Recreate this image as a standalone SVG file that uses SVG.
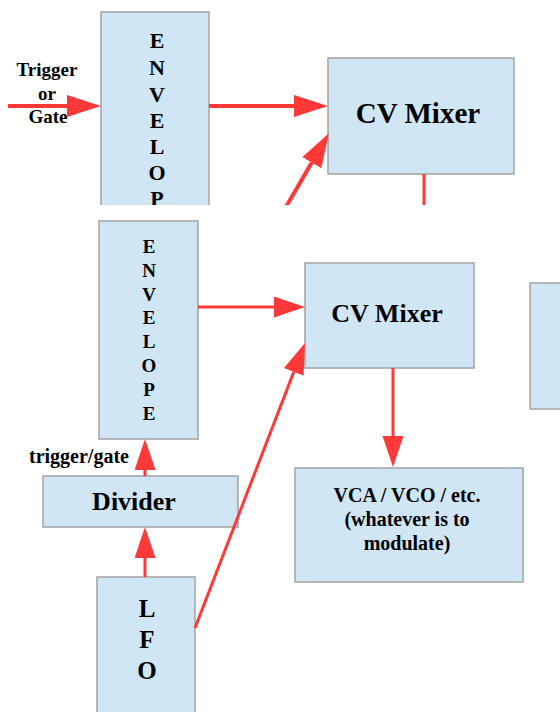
<svg xmlns="http://www.w3.org/2000/svg" width="560" height="712" viewBox="0 0 560 712">
<style>
.box{fill:#d0e6f5;stroke:#a3a3a3;stroke-width:1.5}
.t{font-family:'Liberation Serif','Times New Roman','DejaVu Serif',serif;font-weight:700;fill:#000;text-anchor:middle}
.w4{stroke:#ff3838;stroke-width:4;fill:none}
.w3{stroke:#ff3838;stroke-width:3;fill:none}
</style>
<defs>
<clipPath id="topclip"><rect x="0" y="0" width="560" height="205"/></clipPath>
<marker id="hb" markerUnits="userSpaceOnUse" markerWidth="36" markerHeight="22" refX="0" refY="11" orient="auto"><path d="M0,0 L34,11 L0,22 z" fill="#ff3838"/></marker>
<marker id="hs" markerUnits="userSpaceOnUse" markerWidth="33" markerHeight="22" refX="0" refY="10.5" orient="auto"><path d="M0,0 L31,10.5 L0,21 z" fill="#ff3838"/></marker>
</defs>
<g id="top" clip-path="url(#topclip)">
<g id="env-top">
<rect class="box" x="101" y="12" width="108" height="230"/>
<g class="t" font-family="Liberation Serif, serif" font-size="22">
<text x="157" y="48">E</text><text x="157" y="75">N</text><text x="157" y="102">V</text><text x="157" y="128">E</text><text x="157" y="154">L</text><text x="157" y="180">O</text><text x="157" y="206">P</text>
</g>
</g>
<g id="cvmix-top">
<rect class="box" x="328" y="58" width="186" height="116"/>
<text class="t" font-family="Liberation Serif, serif" x="418" y="123" font-size="29">CV Mixer</text>
</g>
<g id="conn-top">
<line class="w4" x1="8" y1="106" x2="67" y2="106" marker-end="url(#hb)"/>
<line class="w4" x1="209" y1="106" x2="294" y2="106" marker-end="url(#hb)"/>
<line class="w4" x1="283" y1="212" x2="311.8" y2="162.6" marker-end="url(#hb)"/>
<line class="w3" x1="424" y1="174" x2="424" y2="210"/>
</g>
<g id="trig-label" class="t" font-family="Liberation Serif, serif" font-size="19">
<text x="47" y="76">Trigger</text><text x="47" y="99.5">or</text><text x="48" y="123">Gate</text>
</g>
</g>
<g id="env">
<rect class="box" x="99" y="221" width="99" height="218"/>
<g class="t" font-family="Liberation Serif, serif" font-size="19">
<text x="149" y="253">E</text><text x="149" y="276.8">N</text><text x="149" y="300.6">V</text><text x="149" y="324.4">E</text><text x="149" y="348.2">L</text><text x="149" y="372">O</text><text x="149" y="395.8">P</text><text x="149" y="419.6">E</text>
</g>
</g>
<g id="cvmix">
<rect class="box" x="305" y="263" width="169" height="105"/>
<text class="t" font-family="Liberation Serif, serif" x="387" y="322" font-size="26">CV Mixer</text>
</g>
<g id="partial">
<rect class="box" x="530" y="283" width="40" height="126"/>
</g>
<g id="vca">
<rect class="box" x="295" y="468" width="228" height="114"/>
<g class="t" font-family="Liberation Serif, serif" font-size="20">
<text x="407" y="502">VCA / VCO / etc.</text>
<text x="407" y="526">(whatever is to</text>
<text x="407" y="550">modulate)</text>
</g>
</g>
<g id="divider">
<rect class="box" x="43" y="476" width="195" height="51"/>
<text class="t" font-family="Liberation Serif, serif" x="134" y="510" font-size="26">Divider</text>
</g>
<g id="lfo">
<rect class="box" x="97" y="577" width="98" height="145"/>
<g class="t" font-family="Liberation Serif, serif" font-size="25">
<text x="147" y="617">L</text><text x="147" y="648">F</text><text x="147" y="679">O</text>
</g>
</g>
<g id="connectors">
<line class="w3" x1="198" y1="307" x2="274" y2="307" marker-end="url(#hs)"/>
<line class="w3" x1="393" y1="368" x2="393" y2="436" marker-end="url(#hs)"/>
<line class="w3" x1="145" y1="476" x2="145" y2="470" marker-end="url(#hs)"/>
<line class="w3" x1="145" y1="577" x2="145" y2="558" marker-end="url(#hs)"/>
<line class="w3" x1="195" y1="628" x2="293.8" y2="371.9" marker-end="url(#hs)"/>
</g>
<text id="tg-label" class="t" font-family="Liberation Serif, serif" x="79" y="463" font-size="20">trigger/gate</text>
</svg>
